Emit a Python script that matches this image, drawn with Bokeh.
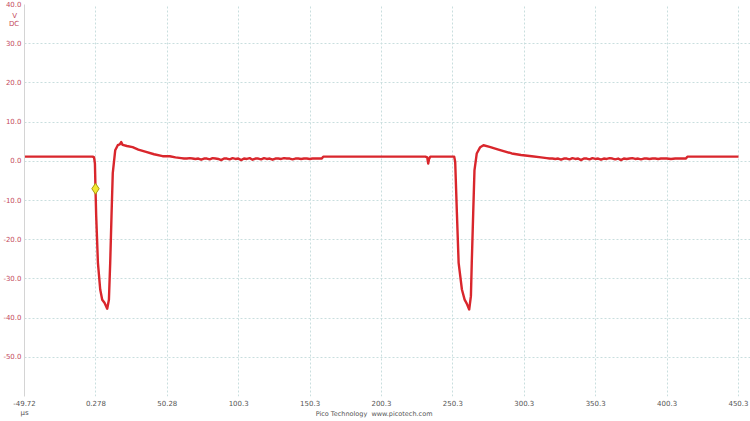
from bokeh.plotting import figure
from bokeh.models import FixedTicker, Range1d
from bokeh.embed import file_html
from bokeh.resources import INLINE

# ---- data (time in microseconds, voltage in V) ----
time_us = [
    -49.72, -2.0, -1.0, -0.4, 0.0, 0.5, 1.7, 3.3, 4.7, 6.3, 8.2, 9.4, 10.3, 11.2, 12.1,
    13.8, 15.6, 17.0, 18.0, 19.0, 22.0, 26.0, 30.0, 35.4, 41.0, 47.0, 52.0, 56.0,
    60, 62, 64, 66, 68, 70, 72, 74, 76, 78, 80, 82, 84, 86, 88, 90, 92, 94, 96, 98,
    100, 102, 104, 106, 108, 110, 112, 114, 116, 118, 120, 122, 124, 126, 128, 130,
    132, 134, 136, 138, 140, 142, 144, 146, 148, 150, 152, 154, 156, 158.5, 159.5,
    200.0, 231.0, 232.3, 233.0, 233.6, 234.5, 251.2,
    251.9, 253.1, 254.3, 256.6, 258.5, 260.0, 261.7, 262.9, 263.5, 264.5, 265.4,
    267.0, 269.4, 271.7, 276.0, 282.2, 291.5, 298.0, 305.5, 312.0,
    316, 318, 320, 322, 324, 326, 328, 330, 332, 334, 336, 338, 340, 342, 344, 346,
    348, 350, 352, 354, 356, 358, 360, 362, 364, 366, 368, 370, 372, 374, 376, 378,
    380, 382, 384, 386, 388, 390, 392, 394, 396, 398, 400, 403, 406, 409, 412,
    413.5, 414.5, 450.3,
]
volts = [
    1.2, 1.2, 1.0, -0.6, -7.0, -14.1, -25.9, -32.7, -35.3, -36.1, -37.6, -35.3, -25.9, -14.1, -3.0,
    2.8, 4.1, 4.3, 4.9, 4.2, 3.9, 3.6, 3.0, 2.4, 1.8, 1.3, 1.3, 1.0,
    0.8, 0.7, 0.7, 0.8, 0.7, 0.6, 0.7, 0.4, 0.7, 0.7, 0.5, 0.8, 0.7, 0.6, 0.3, 0.7,
    0.7, 0.5, 0.8, 0.6, 0.7, 0.3, 0.7, 0.6, 0.8, 0.4, 0.7, 0.7, 0.5, 0.8, 0.6, 0.7,
    0.4, 0.7, 0.7, 0.6, 0.8, 0.7, 0.7, 0.5, 0.7, 0.7, 0.6, 0.7, 0.7, 0.6, 0.7, 0.7,
    0.7, 0.7, 1.2,
    1.2, 1.2, 1.0, -0.6, 0.6, 1.2, 1.2,
    -0.2, -13.3, -25.9, -32.7, -35.3, -36.3, -37.8, -34.4, -25.9, -13.3, -2.3,
    2.0, 3.6, 4.1, 3.7, 3.0, 2.0, 1.6, 1.3, 1.0,
    0.8, 0.7, 0.7, 0.6, 0.7, 0.4, 0.7, 0.7, 0.5, 0.8, 0.6, 0.7, 0.3, 0.7, 0.7, 0.5,
    0.8, 0.6, 0.7, 0.4, 0.7, 0.6, 0.8, 0.7, 0.5, 0.7, 0.3, 0.7, 0.6, 0.7, 0.8, 0.6,
    0.7, 0.5, 0.7, 0.7, 0.6, 0.7, 0.7, 0.6, 0.7, 0.7, 0.7, 0.6, 0.7, 0.7, 0.7,
    0.7, 1.2, 1.2,
]

trigger_t = [0.0]
trigger_v = [-7.0]

x_ticks = [-49.72, 0.278, 50.278, 100.278, 150.278, 200.278, 250.278,
           300.278, 350.278, 400.278, 450.278]
x_tick_labels = ["-49.72\nµs", "0.278", "50.28", "100.3", "150.3", "200.3", "250.3",
                 "300.3", "350.3", "400.3", "450.3"]
y_grid_values = [-60, -50, -40, -30, -20, -10, 0, 10, 20, 30, 40]
y_ticks = [-60, -50, -40, -30, -20, -10, 0, 10, 20, 30, 35.0, 37.0, 40]
y_tick_labels = ["", "-50.0", "-40.0", "-30.0", "-20.0", "-10.0", "0.0",
                 "10.0", "20.0", "30.0", "DC\u00a0", "V\u00a0\u00a0", "40.0"]

FONT = "DejaVu Sans"
YCOL = "#c44a5c"
XCOL = "#555555"
GRID = "#c9dede"

p = figure(width=750, height=421, output_backend="svg", toolbar_location=None,
           x_range=Range1d(-49.72, 458.7), y_range=Range1d(-60, 40),
           min_border_left=0, min_border_right=0, min_border_top=4, min_border_bottom=0)
p.outline_line_color = None
p.background_fill_color = "white"

# axes
p.xaxis.ticker = FixedTicker(ticks=x_ticks)
p.xaxis.major_label_overrides = {t: l for t, l in zip(x_ticks, x_tick_labels)}
p.yaxis.ticker = FixedTicker(ticks=y_ticks)
p.yaxis.major_label_overrides = {t: l for t, l in zip(y_ticks, y_tick_labels)}

for ax in (p.xaxis, p.yaxis):
    ax.major_tick_in = 0
    ax.major_tick_out = 0
    ax.minor_tick_in = 0
    ax.minor_tick_out = 0
    ax.major_label_text_font = FONT
    ax.major_label_text_font_size = "7px"
    ax.major_label_standoff = 3

p.xaxis.major_label_standoff = 3
p.xaxis.axis_line_color = None
p.xaxis.major_label_text_color = XCOL
p.xaxis.axis_label = "Pico Technology\u00a0\u00a0www.picotech.com" + "\u00a0" * 13
p.xaxis.axis_label_text_font = FONT
p.xaxis.axis_label_text_font_size = "6.5px"
p.xaxis.axis_label_text_font_style = "normal"
p.xaxis.axis_label_text_color = XCOL
p.xaxis.axis_label_standoff = -10

p.yaxis.axis_line_color = "#d4d4d4"
p.yaxis.major_label_text_color = YCOL

# grid
p.xgrid.ticker = FixedTicker(ticks=x_ticks)
p.ygrid.ticker = FixedTicker(ticks=y_grid_values)
for g in (p.xgrid, p.ygrid):
    g.grid_line_color = GRID
    g.grid_line_dash = "2 2"
    g.grid_line_width = 1

# trace
p.line(time_us, volts, line_color="#d9262c", line_width=2.4, line_join="round")

# trigger marker
p.scatter(trigger_t, trigger_v, marker="diamond", size=11,
          fill_color="#f2e830", line_color="#a89a10", line_width=1)

open("out.html", "w").write(file_html(p, INLINE))
